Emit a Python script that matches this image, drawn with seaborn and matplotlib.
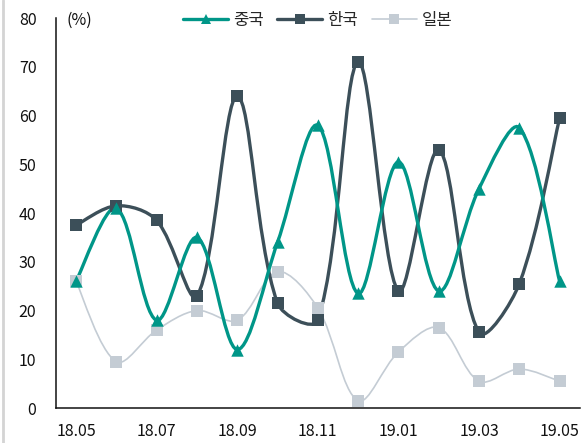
import numpy as np
import pandas as pd
import seaborn as sns
import matplotlib
matplotlib.use("Agg")
import matplotlib.pyplot as plt
from matplotlib.path import Path
from matplotlib.patches import PathPatch
from matplotlib.lines import Line2D

# Monthly values (%)
months = ["18.05", "18.06", "18.07", "18.08", "18.09", "18.10", "18.11",
          "18.12", "19.01", "19.02", "19.03", "19.04", "19.05"]
china = [26, 41, 18, 35, 12, 34, 58, 23.5, 50.5, 24, 45, 57.5, 26]
korea = [37.5, 41.5, 38.5, 23, 64, 21.5, 18, 71, 24, 53, 15.5, 25.5, 59.5]
japan = [26, 9.5, 16, 20, 18, 28, 20.5, 1.5, 11.5, 16.5, 5.5, 8, 5.5]
series_names = ["중국", "한국", "일본"]
tick_labels = ["18.05", "18.07", "18.09", "18.11", "19.01", "19.03", "19.05"]

df = pd.DataFrame({"month": months, "중국": china, "한국": korea, "일본": japan})
df["pos"] = np.arange(len(df))
long = df.melt(id_vars=["month", "pos"], value_vars=series_names,
               var_name="국가", value_name="값")

sns.set_theme(style="white")
plt.rcParams["font.family"] = ["Noto Sans CJK KR", "DejaVu Sans"]

colors = {"중국": "#009688", "한국": "#3c4f59", "일본": "#c4ccd4"}
markers = {"중국": "^", "한국": "s", "일본": "s"}
widths = {"중국": 2.4, "한국": 2.4, "일본": 1.2}
msizes = {"중국": 80, "한국": 85, "일본": 85}

fig = plt.figure(figsize=(5.88, 4.43), dpi=100)
ax = fig.add_axes([0.095, 0.079, 0.891, 0.880])

# screen-space scale of one x step and one y unit, used to weight the tangents
X_SCALE, Y_SCALE = 40.3, 4.875


def smooth_path(xs, ys):
    """Cubic Bezier path through the points with chord-weighted tangents."""
    pts = np.column_stack([xs, ys]).astype(float)
    scr = pts * np.array([X_SCALE, Y_SCALE])
    n = len(pts)
    seg = np.hypot(*np.diff(scr, axis=0).T)

    def handle(i, toward_next):
        prev_i = max(i - 1, 0)
        next_i = min(i + 1, n - 1)
        d = pts[next_i] - pts[prev_i]
        if i == 0 or i == n - 1:
            w = 0.5
        else:
            l_prev, l_next = seg[i - 1], seg[i]
            w = (l_next if toward_next else l_prev) / (l_prev + l_next)
        return d * w / 3.0

    verts = [pts[0]]
    codes = [Path.MOVETO]
    for i in range(n - 1):
        c1 = pts[i] + handle(i, True)
        c2 = pts[i + 1] - handle(i + 1, False)
        verts += [c1, c2, pts[i + 1]]
        codes += [Path.CURVE4] * 3
    return Path(verts, codes)


for name in ["일본", "한국", "중국"]:
    sub = long[long["국가"] == name]
    patch = PathPatch(smooth_path(sub["pos"].values, sub["값"].values),
                      facecolor="none", edgecolor=colors[name],
                      lw=widths[name], zorder=2, capstyle="round")
    ax.add_patch(patch)
    sns.scatterplot(data=sub, x="pos", y="값", marker=markers[name],
                    color=colors[name], s=msizes[name], linewidth=0,
                    ax=ax, zorder=3, legend=False)

ax.set_xlim(-0.5, 12.5)
ax.set_ylim(0, 80)
ax.set_xlabel("")
ax.set_ylabel("")

# x axis: labels every other month, ticks on the category boundaries
label_pos = np.arange(0, 13, 2)
ax.set_xticks(label_pos)
ax.set_xticklabels(tick_labels)
ax.set_xticks(np.arange(1.5, 12.5, 2), minor=True)
ax.tick_params(axis="x", which="major", length=0, pad=11, labelsize=11.5,
               colors="#111111")
ax.tick_params(axis="x", which="minor", direction="in", length=5, width=1,
               color="#111111")

ax.set_yticks(np.arange(0, 81, 10))
ax.tick_params(axis="y", direction="in", length=5, width=1, pad=14,
               labelsize=11.5, colors="#111111")
for lbl in ax.get_xticklabels() + ax.get_yticklabels():
    lbl.set_fontweight("medium")

for side in ["top", "right"]:
    ax.spines[side].set_visible(False)
for side in ["left", "bottom"]:
    ax.spines[side].set_color("#111111")
    ax.spines[side].set_linewidth(1.1)

ax.text(0.02, 0.995, "(%)", transform=ax.transAxes, ha="left", va="center",
        fontsize=11.5, color="#111111", fontweight="medium")

handles = [Line2D([0], [0], color=colors[n], lw=widths[n], marker=markers[n],
                  markersize=7 if n == "중국" else 7.5, markeredgewidth=0)
           for n in series_names]
leg = ax.legend(handles, series_names, loc="center", bbox_to_anchor=(0.5, 0.995),
                ncol=3, frameon=False, handlelength=2.7, handletextpad=0.3,
                columnspacing=0.8, prop={"size": 12, "weight": "medium"})

# thin frame line along the left edge of the image
fig.add_artist(Line2D([0.005, 0.005], [0, 1], transform=fig.transFigure,
                      color="#d4d4d4", lw=2))

fig.savefig("out.png", dpi=100)
